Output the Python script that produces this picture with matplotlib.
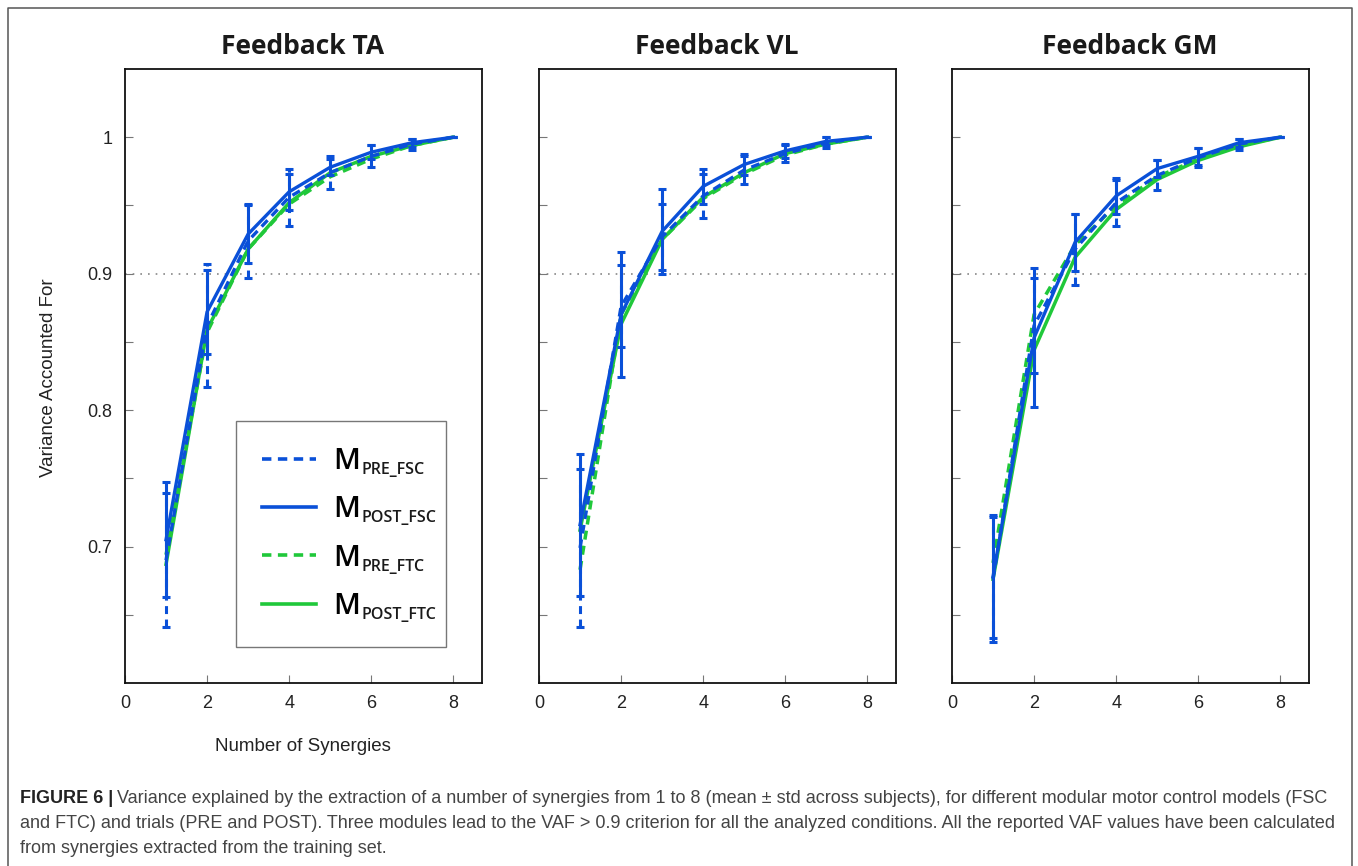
import numpy as np
import matplotlib.pyplot as plt
from matplotlib import font_manager
from matplotlib.lines import Line2D

# number of synergies extracted
synergies = np.arange(1, 9)

# VAF mean and std across subjects, one block per feedback muscle
ta_pre_fsc = [0.690, 0.862, 0.924, 0.956, 0.974, 0.986, 0.995, 1.0]
ta_pre_fsc_sd = [0.049, 0.045, 0.027, 0.021, 0.012, 0.008, 0.004, 0.0]
ta_post_fsc = [0.705, 0.872, 0.929, 0.960, 0.978, 0.989, 0.996, 1.0]
ta_post_fsc_sd = [0.042, 0.031, 0.021, 0.013, 0.006, 0.005, 0.003, 0.0]
ta_pre_ftc = [0.694, 0.857, 0.918, 0.951, 0.971, 0.984, 0.994, 1.0]
ta_post_ftc = [0.687, 0.859, 0.918, 0.952, 0.974, 0.986, 0.994, 1.0]

vl_pre_fsc = [0.699, 0.876, 0.927, 0.957, 0.976, 0.988, 0.996, 1.0]
vl_pre_fsc_sd = [0.058, 0.030, 0.024, 0.016, 0.010, 0.006, 0.004, 0.0]
vl_post_fsc = [0.716, 0.870, 0.931, 0.964, 0.980, 0.990, 0.997, 1.0]
vl_post_fsc_sd = [0.052, 0.046, 0.031, 0.013, 0.008, 0.005, 0.003, 0.0]
vl_pre_ftc = [0.683, 0.870, 0.925, 0.955, 0.973, 0.987, 0.995, 1.0]
vl_post_ftc = [0.712, 0.863, 0.925, 0.956, 0.974, 0.988, 0.995, 1.0]

gm_pre_fsc = [0.676, 0.862, 0.918, 0.952, 0.972, 0.985, 0.995, 1.0]
gm_pre_fsc_sd = [0.046, 0.035, 0.026, 0.017, 0.011, 0.007, 0.004, 0.0]
gm_post_fsc = [0.678, 0.853, 0.923, 0.957, 0.977, 0.986, 0.996, 1.0]
gm_post_fsc_sd = [0.045, 0.051, 0.021, 0.013, 0.006, 0.006, 0.003, 0.0]
gm_pre_ftc = [0.688, 0.870, 0.921, 0.950, 0.971, 0.984, 0.994, 1.0]
gm_post_ftc = [0.676, 0.844, 0.912, 0.947, 0.969, 0.983, 0.993, 1.0]

titles = ['Feedback TA', 'Feedback VL', 'Feedback GM']
panels = [
    (ta_pre_fsc, ta_pre_fsc_sd, ta_post_fsc, ta_post_fsc_sd, ta_pre_ftc, ta_post_ftc),
    (vl_pre_fsc, vl_pre_fsc_sd, vl_post_fsc, vl_post_fsc_sd, vl_pre_ftc, vl_post_ftc),
    (gm_pre_fsc, gm_pre_fsc_sd, gm_post_fsc, gm_post_fsc_sd, gm_pre_ftc, gm_post_ftc),
]
legend_subs = ['PRE_FSC', 'POST_FSC', 'PRE_FTC', 'POST_FTC']

caption = [
    'Variance explained by the extraction of a number of synergies from 1 to 8 (mean \u00b1 std across subjects), '
    'for different modular motor control models (FSC',
    'and FTC) and trials (PRE and POST). Three modules lead to the VAF > 0.9 criterion for all the analyzed '
    'conditions. All the reported VAF values have been calculated',
    'from synergies extracted from the training set.',
]

BLUE = '#0a50d8'
GREEN = '#20c83a'
W, H = 1358, 866

plt.rcParams['font.family'] = ['Liberation Sans', 'DejaVu Sans']

fig = plt.figure(figsize=(W / 100, H / 100), dpi=100)

# outer frame (open at the bottom)
fig.add_artist(Line2D([8 / W, 8 / W, 1352 / W, 1352 / W], [0, 1 - 8 / H, 1 - 8 / H, 0],
                      transform=fig.transFigure, color='#555555', lw=1.1))

axes = []
for i, left in enumerate([125, 539, 952]):
    ax = fig.add_axes([left / W, 1 - 683 / H, 357 / W, 614 / H])
    axes.append(ax)
    pre_fsc, pre_fsc_sd, post_fsc, post_fsc_sd, pre_ftc, post_ftc = panels[i]

    ax.axhline(0.9, color='#888888', lw=1.2, ls=(0, (1, 3.6)), zorder=1)

    ax.plot(synergies, post_ftc, color=GREEN, lw=2.5, zorder=2)
    ax.plot(synergies, pre_ftc, color=GREEN, lw=2.5, dashes=(2.6, 1.8), zorder=2)

    eb = ax.errorbar(synergies, pre_fsc, yerr=pre_fsc_sd, color=BLUE, lw=2.4, dashes=(2.6, 1.8),
                     elinewidth=2.2, capsize=2.6, capthick=2.2, zorder=3)
    eb[2][0].set_linestyle((0, (2.6, 1.8)))
    ax.errorbar(synergies, post_fsc, yerr=post_fsc_sd, color=BLUE, lw=2.4,
                elinewidth=2.2, capsize=2.6, capthick=2.2, zorder=3)

    ax.set_xlim(0, 8.7)
    ax.set_ylim(0.6, 1.05)
    ax.set_xticks([0, 2, 4, 6, 8])
    ax.set_yticks([0.65, 0.7, 0.75, 0.8, 0.85, 0.9, 0.95, 1.0])
    if i == 0:
        ax.set_yticklabels(['', '0.7', '', '0.8', '', '0.9', '', '1'])
        ax.set_ylabel('Variance Accounted For', fontsize=13.5, color='#222222')
        ax.yaxis.set_label_coords(-0.19, 0.497)
        ax.set_xlabel('Number of Synergies', fontsize=13.5, color='#222222')
        ax.xaxis.set_label_coords(0.499, -0.09)
    else:
        ax.set_yticklabels([])
    ax.tick_params(direction='in', length=6, width=0.8, color='#777777',
                   labelsize=13, labelcolor='#222222', pad=9)
    for s in ax.spines.values():
        s.set_linewidth(1.3)
        s.set_color('#111111')

    fig.text((left + 178) / W, 1 - 46 / H, titles[i], ha='center', va='center',
             fontsize=19, fontweight='bold', family='Open Sans', color='#1a1a1a')

# legend in the first panel; the subscripts are added after the layout is known
handles = [
    Line2D([], [], color=BLUE, lw=2.6, dashes=(2.6, 1.8)),
    Line2D([], [], color=BLUE, lw=2.6),
    Line2D([], [], color=GREEN, lw=2.6, dashes=(2.6, 1.8)),
    Line2D([], [], color=GREEN, lw=2.6),
]
leg = axes[0].legend(handles, ['M'] * 4, loc='upper left', bbox_to_anchor=(0.311, 0.427, 0.588, 0),
                     mode='expand', borderaxespad=0,
                     prop={'family': 'Open Sans', 'size': 21, 'weight': 600},
                     handlelength=1.85, handletextpad=0.6, labelspacing=0.66, borderpad=0.9,
                     fancybox=False, edgecolor='#777777', framealpha=1)
leg.get_frame().set_linewidth(1.0)

fig.canvas.draw()
renderer = fig.canvas.get_renderer()
for t, sub in zip(leg.get_texts(), legend_subs):
    bb = t.get_window_extent(renderer)
    fig.text((bb.x1 + 0.5) / W, (bb.y0 + 2) / H, sub, fontsize=11.5, family='Open Sans',
             fontweight=600, color='#1a1a1a', va='baseline', ha='left')

# caption under the panels
names = {f.name for f in font_manager.fontManager.ttflist}
cap_family = 'Liberation Sans Narrow' if 'Liberation Sans Narrow' in names else 'Liberation Sans'
cap_size = 12.5
head = fig.text(20 / W, 1 - 803 / H, 'FIGURE 6 |', fontsize=cap_size, fontweight='bold',
                family=cap_family, color='#222222', va='baseline')
fig.canvas.draw()
hb = head.get_window_extent(renderer)
body = fig.text((hb.x1 + 4) / W, 1 - 803 / H, caption[0], fontsize=cap_size,
                family=cap_family, color='#444444', va='baseline')
fig.canvas.draw()
bb = body.get_window_extent(renderer)
scale = (1336 - 20) / (bb.x1 - hb.x0)
cap_size *= scale
head.set_fontsize(cap_size)
fig.canvas.draw()
hb = head.get_window_extent(renderer)
body.set_fontsize(cap_size)
body.set_x((hb.x1 + 4 * scale) / W)
for k, line in enumerate(caption[1:]):
    fig.text(20 / W, 1 - (828 + 25 * k) / H, line, fontsize=cap_size,
             family=cap_family, color='#444444', va='baseline')

fig.savefig('out.png', dpi=100)
